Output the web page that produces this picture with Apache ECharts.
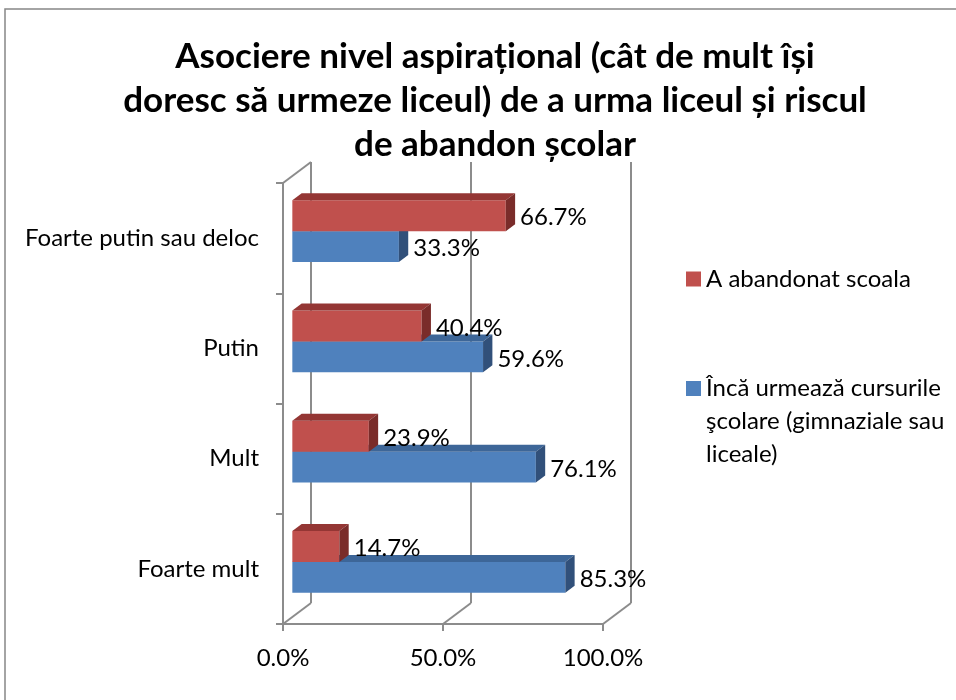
<!DOCTYPE html>
<html>
<head>
<meta charset="utf-8">
<script src="https://cdn.jsdelivr.net/npm/echarts@6/dist/echarts.min.js"></script>
<style>
  html,body{margin:0;padding:0;background:#fff;}
  #main{width:956px;height:700px;}
</style>
</head>
<body>
<div id="main"></div>
<script>
// date din grafic
var categorii = ["Foarte putin sau deloc", "Putin", "Mult", "Foarte mult"];
var abandon = [66.7, 40.4, 23.9, 14.7];          // A abandonat scoala
var urmeaza = [33.3, 59.6, 76.1, 85.3];          // inca urmeaza cursurile
var tickuri = [0, 50, 100];
var numeAbandon = "A abandonat scoala";
var numeUrmeaza = "Încă urmează cursurile şcolare (gimnaziale sau liceale)";

var FONT = "Lato";
var FS = 24;
var DX = 28, DY = -21;          // adancimea peretelui din spate
var BX = DX / 3, BY = DY / 3;   // deplasarea barelor
var GRI = "#8c8c8c";

function bara(fata, sus, lateral, deasupra){
  return function(params, api){
    var val = api.value(0), ci = api.value(1);
    var p0 = api.coord([0, ci]);
    var p1 = api.coord([val, ci]);
    var h = api.size([0, 1])[1] * 0.281;
    var y0 = deasupra ? p0[1] - h : p0[1];
    var x0 = p0[0] + BX, x1 = p1[0] + BX;
    y0 = y0 + BY;
    var y1 = y0 + h;
    return {
      type: 'group',
      children: [
        {type:'rect', shape:{x:x0, y:y0, width:x1-x0, height:h}, style:{fill:fata}},
        {type:'polygon', shape:{points:[[x0,y0],[x1,y0],[x1+BX,y0+BY],[x0+BX,y0+BY]]}, style:{fill:sus}},
        {type:'polygon', shape:{points:[[x1,y0],[x1+BX,y0+BY],[x1+BX,y1+BY],[x1,y1]]}, style:{fill:lateral}},
        {type:'text', style:{x:x1+BX+5, y:y0+h/2+2, text:val.toFixed(1)+'%', fill:'#000',
          font:FS + 'px ' + FONT, verticalAlign:'middle', align:'left'}}
      ]
    };
  };
}

function pereti(params, api){
  var v = api.value(0);
  var cs = params.coordSys;
  var x = api.coord([v, 0])[0];
  var yT = cs.y, yB = cs.y + cs.height;
  var st = {stroke:GRI, lineWidth:2};
  var ch = [
    {type:'line', shape:{x1:x+DX, y1:yT+DY, x2:x+DX, y2:yB+DY}, style:st},
    {type:'line', shape:{x1:x, y1:yB, x2:x+DX, y2:yB+DY}, style:st}
  ];
  if (v === 0) ch.push({type:'line', shape:{x1:x, y1:yT, x2:x+DX, y2:yT+DY}, style:st});
  return {type:'group', children:ch};
}

var dateAbandon = abandon.map(function(v, i){ return [v, i]; });
var dateUrmeaza = urmeaza.map(function(v, i){ return [v, i]; });
var datePereti = tickuri.map(function(v){ return [v, 0]; });

var option = {
  backgroundColor:'#fff',
  animation:false,
  textStyle:{fontFamily:FONT},
  title:{
    text:"Asociere nivel aspirațional (cât de mult își\ndoresc să urmeze liceul) de a urma liceul și riscul\nde abandon școlar",
    left:490, top:30, textAlign:'center',
    textStyle:{fontFamily:FONT, fontSize:35, fontWeight:'bold', color:'#000', lineHeight:44}
  },
  graphic:[{type:'rect', shape:{x:5, y:9, width:1200, height:1200}, style:{fill:'none', stroke:'#868686', lineWidth:1.5}, silent:true}],
  legend:[
    {data:[numeAbandon], left:686, top:267, padding:0, icon:'rect', itemWidth:15, itemHeight:15,
     textStyle:{fontFamily:FONT, fontSize:FS, color:'#000'}},
    {data:[numeUrmeaza], left:686, top:306, padding:0, icon:'rect', itemWidth:15, itemHeight:15,
     formatter:function(){ return "\n\nÎncă urmează cursurile\nşcolare (gimnaziale sau\nliceale)"; },
     textStyle:{fontFamily:FONT, fontSize:FS, color:'#000', lineHeight:33}}
  ],
  grid:{left:283, top:183, width:320, height:441, containLabel:false},
  xAxis:{
    type:'value', min:0, max:100, interval:50,
    axisLine:{show:true, lineStyle:{color:GRI, width:2}},
    axisTick:{show:true, length:7, lineStyle:{color:GRI, width:2}},
    splitLine:{show:false},
    axisLabel:{formatter:'{value}.0%', fontFamily:FONT, fontSize:FS, color:'#000', margin:22}
  },
  yAxis:{
    type:'category', data:categorii, inverse:true,
    axisLine:{show:true, lineStyle:{color:GRI, width:2}},
    axisTick:{show:true, length:7, lineStyle:{color:GRI, width:2}},
    axisLabel:{fontFamily:FONT, fontSize:FS, color:'#000', margin:24}
  },
  series:[
    {type:'custom', name:'pereti', renderItem:pereti, data:datePereti, silent:true,
     encode:{x:0, y:1}, z:1},
    {type:'custom', name:numeUrmeaza, renderItem:bara('#4F81BD','#3D6698','#31507A', false),
     data:dateUrmeaza, encode:{x:0, y:1}, itemStyle:{color:'#4F81BD'}, z:2},
    {type:'custom', name:numeAbandon, renderItem:bara('#C0504D','#943634','#7A2C2A', true),
     data:dateAbandon, encode:{x:0, y:1}, itemStyle:{color:'#C0504D'}, z:3}
  ]
};

var myChart = echarts.init(document.getElementById('main'));
myChart.setOption(option);
</script>
</body>
</html>
